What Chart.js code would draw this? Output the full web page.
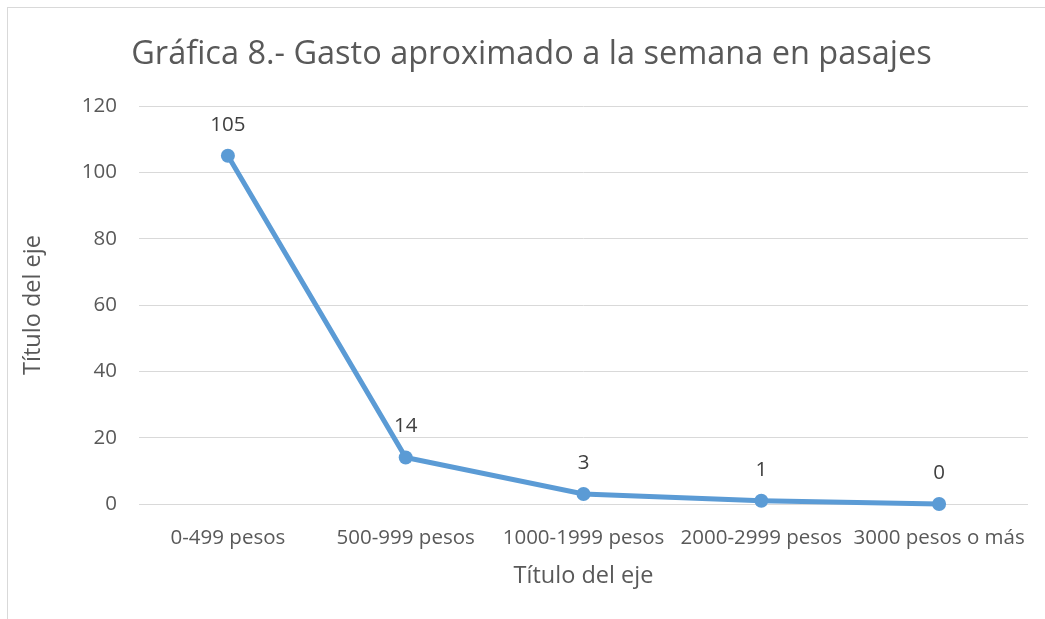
<!DOCTYPE html>
<html>
<head>
<meta charset="utf-8">
<script src="https://cdn.jsdelivr.net/npm/chart.js@4.4.1/dist/chart.umd.min.js"></script>
<style>
  body { margin: 0; background: #fff; overflow: hidden; }
  #marco { position: absolute; left: 7px; top: 7px; width: 1200px; height: 800px;
           border-left: 1px solid #d9d9d9; border-top: 1px solid #d9d9d9; }
  #grafica { position: absolute; left: 0; top: 0; }
</style>
</head>
<body>
<div id="marco"></div>
<canvas id="grafica" width="1045" height="619"></canvas>
<script>
const categorias = ['0-499 pesos', '500-999 pesos', '1000-1999 pesos', '2000-2999 pesos', '3000 pesos o más'];
const valores = [105, 14, 3, 1, 0];
const ticksY = [0, 20, 40, 60, 80, 100, 120];

const fuente = "'Open Sans', 'DejaVu Sans', sans-serif";

// etiquetas de datos encima de cada punto
const etiquetasDatos = {
  id: 'etiquetasDatos',
  afterDatasetsDraw(chart) {
    const ctx = chart.ctx;
    const meta = chart.getDatasetMeta(0);
    ctx.save();
    ctx.font = '20.5px ' + fuente;
    ctx.fillStyle = '#404040';
    ctx.textAlign = 'center';
    ctx.textBaseline = 'middle';
    meta.data.forEach((punto, i) => {
      ctx.fillText(String(valores[i]), punto.x, punto.y - 31);
    });
    ctx.restore();
  }
};

// el titulo va centrado un poco a la derecha, como en excel
const moverTitulo = {
  id: 'moverTitulo',
  afterLayout(chart) {
    if (chart.titleBlock) chart.titleBlock.left = 35;
  }
};

const ctx = document.getElementById('grafica').getContext('2d');
new Chart(ctx, {
  type: 'line',
  data: {
    labels: categorias,
    datasets: [{
      data: valores,
      borderColor: '#5B9BD5',
      backgroundColor: '#5B9BD5',
      borderWidth: 5,
      pointRadius: 7,
      pointHoverRadius: 7,
      pointBorderWidth: 0,
      tension: 0,
      fill: false,
      clip: false
    }]
  },
  options: {
    responsive: false,
    animation: false,
    events: [],
    layout: { padding: { left: 0, top: 0, right: 17, bottom: 0 } },
    plugins: {
      legend: { display: false },
      tooltip: { enabled: false },
      title: {
        display: true,
        text: 'Gráfica 8.- Gasto aproximado a la semana en pasajes',
        color: '#595959',
        font: { family: fuente, size: 32.5, weight: 'normal' },
        padding: { top: 35, bottom: 32 }
      }
    },
    scales: {
      x: {
        offset: true,
        grid: { display: false },
        border: { display: false },
        ticks: {
          color: '#595959',
          font: { family: fuente, size: 20.5 },
          padding: 14,
          maxRotation: 0,
          autoSkip: false
        },
        title: {
          display: true,
          text: 'Título del eje',
          color: '#595959',
          font: { family: fuente, size: 23.5 },
          padding: { top: 0, bottom: 29 }
        },
        afterFit(escala) { escala.height = 115; }
      },
      y: {
        min: 0,
        max: 120,
        afterBuildTicks(escala) { escala.ticks = ticksY.map(v => ({ value: v })); },
        grid: { color: '#d9d9d9', lineWidth: 1, drawTicks: false },
        border: { display: false },
        ticks: {
          color: '#595959',
          font: { family: fuente, size: 20.5 },
          padding: 22
        },
        title: {
          display: true,
          text: 'Título del eje',
          color: '#595959',
          font: { family: fuente, size: 23.5 },
          padding: { top: 19, bottom: 0 }
        },
        afterFit(escala) { escala.width = 139; }
      }
    }
  },
  plugins: [etiquetasDatos, moverTitulo]
});
</script>
</body>
</html>
